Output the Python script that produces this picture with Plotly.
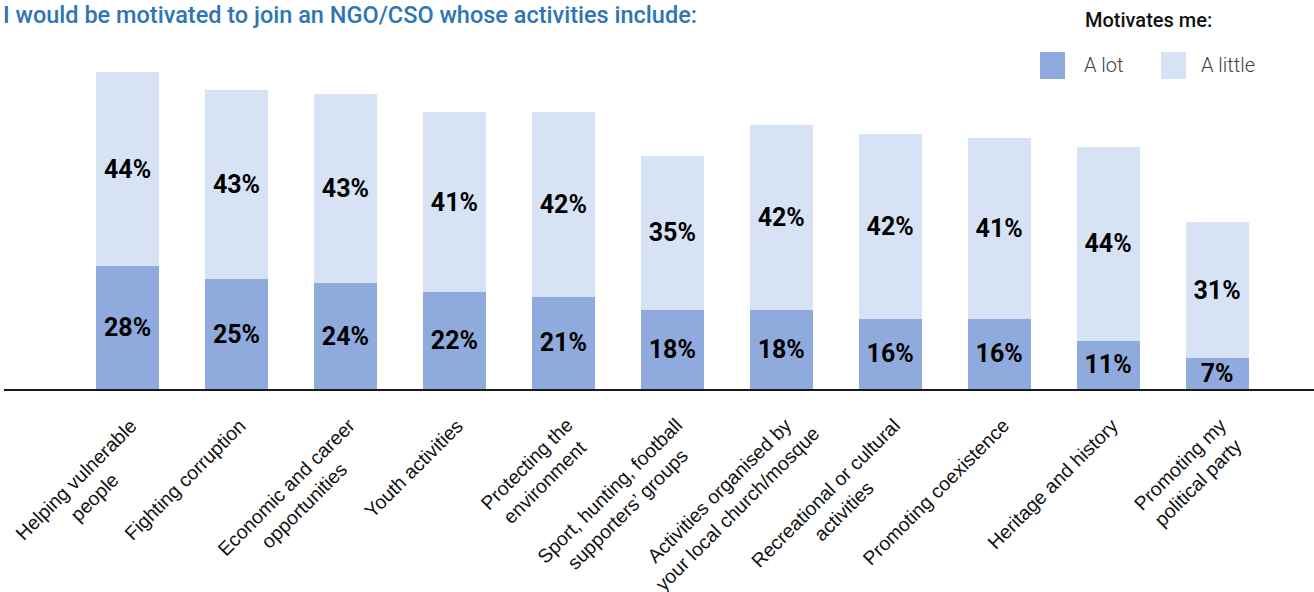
import math
import plotly.graph_objects as go

# Survey data
categories = [
    "Helping vulnerable<br>people",
    "Fighting corruption",
    "Economic and career<br>opportunities",
    "Youth activities",
    "Protecting the<br>environment",
    "Sport, hunting, football<br>supporters’ groups",
    "Activities organised by<br>your local church/mosque",
    "Recreational or cultural<br>activities",
    "Promoting coexistence",
    "Heritage and history",
    "Promoting my<br>political party",
]
a_lot = [28, 25, 24, 22, 21, 18, 18, 16, 16, 11, 7]
a_little = [44, 43, 43, 41, 42, 35, 42, 42, 41, 44, 31]
series_names = ["A lot", "A little"]

title_text = "I would be motivated to join an NGO/CSO whose activities include:"
legend_title = "Motivates me:"

COLOR_LOT = "#8FAADC"
COLOR_LITTLE = "#D7E3F4"
TITLE_BLUE = "#2E75B6"

W, H = 1314, 592
M_L, M_R, M_T, M_B = 4, 0, 40, 203
plot_w = W - M_L - M_R
plot_h = H - M_T - M_B


def px_x(px):
    return (px - M_L) / plot_w


def px_y(py):
    return (H - M_B - py) / plot_h


# Advance widths (1/1000 em) of Liberation Sans, used to centre wrapped labels
ADV = {
    " ": 278, "’": 222, ",": 278, "/": 278,
    "a": 556, "b": 556, "c": 500, "d": 556, "e": 556, "f": 278, "g": 556,
    "h": 556, "i": 222, "j": 222, "k": 500, "l": 222, "m": 833, "n": 556,
    "o": 556, "p": 556, "q": 556, "r": 333, "s": 500, "t": 278, "u": 556,
    "v": 500, "w": 722, "x": 500, "y": 500, "z": 500,
    "A": 667, "E": 667, "F": 611, "H": 722, "P": 667, "R": 722, "S": 667, "Y": 667,
}


def text_width(s, size):
    return sum(ADV.get(ch, 556) for ch in s) * size / 1000


fig = go.Figure()
for name, vals, col in [(series_names[0], a_lot, COLOR_LOT),
                        (series_names[1], a_little, COLOR_LITTLE)]:
    fig.add_trace(go.Bar(
        x=categories, y=vals, name=name,
        marker=dict(color=col, line=dict(width=0)),
        width=0.578,
        text=[f"{v}%" for v in vals],
        textposition="inside",
        insidetextanchor="middle",
        textangle=0,
        textfont=dict(family="Roboto", size=25, color="black", weight="bold"),
        showlegend=False,
        hoverinfo="skip",
    ))

# Category labels: rotated -45 deg, lines centred on one another,
# the end of the first line sitting just under the bar.
label_size = 19.5
line_h = 25.5
end_dx = -2.0     # px right of the category centre
end_dy = 25.0     # px below the axis line
c45 = math.cos(math.pi / 4)
annotations = []
for cat in categories:
    lines = cat.split("<br>")
    w1 = text_width(lines[0], label_size)
    box_h = label_size * 1.15
    # centre of the first line
    cx0 = end_dx - c45 * w1 / 2 + c45 * box_h / 2
    cy0 = end_dy + c45 * w1 / 2 + c45 * box_h / 2
    for k, ln in enumerate(lines):
        annotations.append(dict(
            x=cat, xref="x", y=0, yref="paper",
            text=ln, showarrow=False, textangle=-45,
            xanchor="center", yanchor="middle",
            xshift=cx0 + k * line_h * c45,
            yshift=-(cy0 + k * line_h * c45),
            borderpad=0,
            font=dict(family="Liberation Sans, Arial", size=label_size, color="#111111"),
        ))

# Legend
annotations.append(dict(
    x=px_x(1083), y=px_y(20), xref="paper", yref="paper",
    text=legend_title, showarrow=False, xanchor="left", yanchor="middle",
    font=dict(family="Roboto", size=20, color="#111111", weight=500),
))
shapes = []
for name, col, sx, tx in [(series_names[0], COLOR_LOT, 1040, 1082),
                          (series_names[1], COLOR_LITTLE, 1161, 1199)]:
    shapes.append(dict(
        type="rect", xref="paper", yref="paper",
        x0=px_x(sx), x1=px_x(sx + 25), y0=px_y(79), y1=px_y(52),
        fillcolor=col, line=dict(width=0), layer="above",
    ))
    annotations.append(dict(
        x=px_x(tx), y=px_y(65), xref="paper", yref="paper",
        text=name, showarrow=False, xanchor="left", yanchor="middle",
        font=dict(family="Roboto", size=20, color="#404040", weight=300),
    ))

fig.update_layout(
    barmode="stack",
    width=W, height=H,
    margin=dict(l=M_L, r=M_R, t=M_T, b=M_B),
    paper_bgcolor="white", plot_bgcolor="white",
    title=dict(
        text=title_text, x=3 / W, xanchor="left", y=1 - 15 / H, yanchor="middle",
        font=dict(family="Roboto", size=23.5, color=TITLE_BLUE, weight=500),
    ),
    xaxis=dict(
        type="category", range=[-1.134, 10.890],
        showticklabels=False, ticks="", showgrid=False, zeroline=False,
        showline=True, linecolor="#1a1a1a", linewidth=2,
    ),
    yaxis=dict(range=[0, plot_h / 4.4], visible=False, showgrid=False),
    uniformtext=dict(minsize=25, mode="show"),
    annotations=annotations,
    shapes=shapes,
)

fig.write_html("out.html")
